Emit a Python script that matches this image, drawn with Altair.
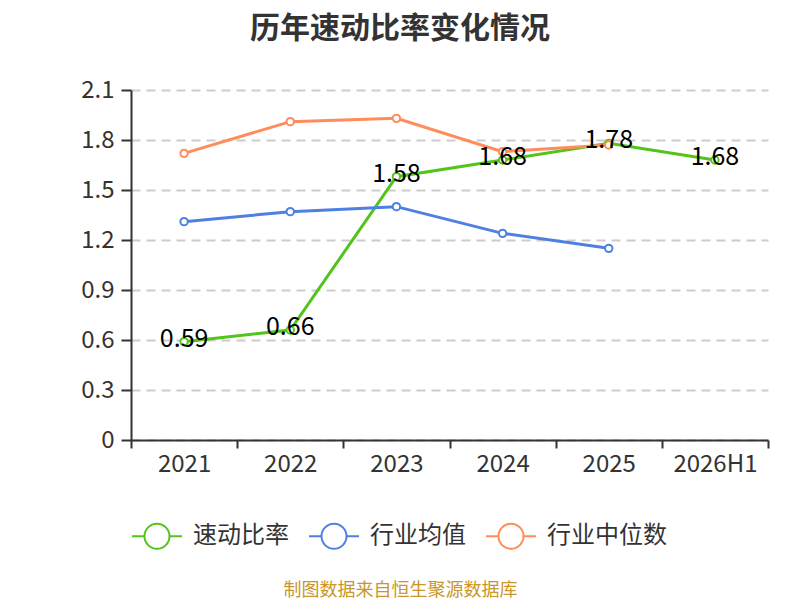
import json
import altair as alt
import pandas as pd

categories = ["2021", "2022", "2023", "2024", "2025", "2026H1"]
quick_ratio = [0.59, 0.66, 1.58, 1.68, 1.78, 1.68]
industry_mean = [1.31, 1.37, 1.40, 1.24, 1.15, None]
industry_median = [1.72, 1.91, 1.93, 1.73, 1.77, None]
series_names = ["速动比率", "行业均值", "行业中位数"]
colors = ["#52c41a", "#4e80e2", "#ff8c5a"]
y_ticks = [0, 0.3, 0.6, 0.9, 1.2, 1.5, 1.8, 2.1]
title_text = "历年速动比率变化情况"
source_text = "制图数据来自恒生聚源数据库"

FONT = "Noto Sans CJK SC"

rows = []
for name, vals in zip(series_names, [quick_ratio, industry_mean, industry_median]):
    for i, (c, v) in enumerate(zip(categories, vals)):
        if v is not None:
            rows.append({"idx": i, "cat": c, "series": name, "value": v})
df = pd.DataFrame(rows)

n = len(categories)
x_values = sorted([i - 0.5 for i in range(n + 1)] + list(range(n)))
cats_js = json.dumps(categories, ensure_ascii=False)

x_enc = alt.X(
    "idx:Q",
    scale=alt.Scale(domain=[-0.5, n - 0.5], nice=False, zero=False),
    axis=alt.Axis(
        values=x_values,
        labelExpr=f"datum.value % 1 === 0 ? {cats_js}[datum.value] : ''",
        tickOpacity={"condition": {"test": "datum.value % 1 !== 0", "value": 1}, "value": 0},
        labelOverlap=False,
        labelBound=False,
        labelFlush=False,
        grid=False,
        domainColor="#333333",
        domainWidth=2,
        tickColor="#333333",
        tickWidth=2,
        tickSize=8,
        labelFontSize=24,
        labelColor="#333333",
        labelFont=FONT,
        labelPadding=4,
        title=source_text,
        titleFont=FONT,
        titleFontSize=18,
        titleFontWeight="normal",
        titleColor="#c9962b",
        titleX=269,
        titleY=150,
        titleAlign="center",
        titleBaseline="middle",
    ),
)

y_enc = alt.Y(
    "value:Q",
    scale=alt.Scale(domain=[0, 2.1], nice=False, zero=True),
    axis=alt.Axis(
        values=y_ticks,
        format=".1~f",
        grid=True,
        gridDash=[9, 6],
        gridColor="#cccccc",
        gridWidth=2,
        domainColor="#333333",
        domainWidth=2,
        tickColor="#333333",
        tickWidth=2,
        tickSize=10,
        labelFontSize=24,
        labelColor="#333333",
        labelFont=FONT,
        labelPadding=7,
        title=None,
    ),
)

symbol_path = (
    "M-1,0L-0.5,0M0.5,0L1,0"
    "M-0.5,0A0.5,0.5,0,1,1,0.5,0A0.5,0.5,0,1,1,-0.5,0Z"
)

color_scale = alt.Scale(domain=series_names, range=colors)

base = alt.Chart(df)

lines = base.mark_line(strokeWidth=3).encode(
    x=x_enc,
    y=y_enc,
    color=alt.Color(
        "series:N",
        scale=color_scale,
        sort=series_names,
        legend=alt.Legend(
            title=None,
            orient="none",
            legendX=0,
            legendY=420,
            direction="horizontal",
            symbolType=symbol_path,
            symbolSize=2500,
            symbolStrokeWidth=2,
            symbolFillColor="white",
            labelFont=FONT,
            labelFontSize=24,
            labelColor="#333333",
            labelOffset=10,
            columnPadding=16,
            padding=0,
        ),
    ),
    detail="series:N",
)

points = base.mark_point(
    shape="circle", filled=True, fill="white", size=55, strokeWidth=2, opacity=1
).encode(
    x="idx:Q",
    y="value:Q",
    stroke=alt.Stroke("series:N", scale=color_scale, legend=None),
)

labels = base.transform_filter(
    alt.datum.series == series_names[0]
).mark_text(
    font=FONT, fontSize=25, color="#000000", baseline="middle", align="center", dy=-3
).encode(
    x="idx:Q",
    y="value:Q",
    text=alt.Text("value:Q", format=".2f"),
)

chart = alt.layer(lines, points, labels).properties(
    width=637,
    height=350,
    autosize=alt.AutoSizeParams(type="none"),
    padding={"left": 123, "top": 82, "right": 24, "bottom": 160},
    background="white",
    title=alt.TitleParams(
        text=title_text,
        font=FONT,
        fontSize=30,
        fontWeight="bold",
        color="#333333",
        anchor="middle",
        dx=-49.5,
        offset=34,
    ),
).resolve_scale(
    color="shared", stroke="shared"
).configure_view(stroke=None)

chart.save("out.html", embed_options={"renderer": "svg", "actions": False})
